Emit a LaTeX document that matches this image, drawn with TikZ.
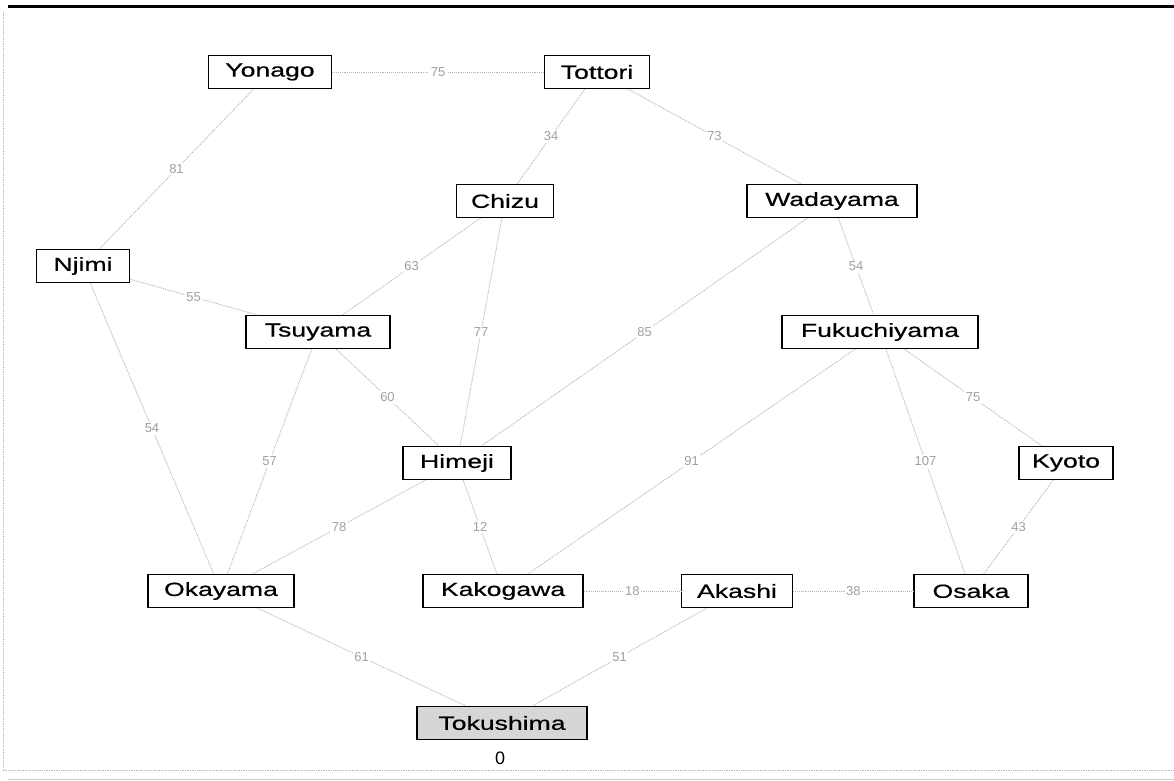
\documentclass[tikz,border=0pt]{standalone}
\usepackage{fontspec}
\newfontfamily\citysans[FakeStretch=1.4,FakeBold=0.6]{Liberation Sans}
\newfontfamily\weightsans{Liberation Sans}
\definecolor{edgegray}{HTML}{B4B4B4}
\definecolor{labelgray}{HTML}{A0A0A0}
\definecolor{startfill}{HTML}{D6D6D6}
\tikzset{
  city/.style={draw=black, line width=1.3pt, rectangle, minimum height=33pt,
    inner xsep=4pt, font=\citysans\fontsize{19}{22}\selectfont, text=black, fill=white},
  road/.style={draw=edgegray, line width=0.9pt, densely dotted},
  weight/.style={font=\weightsans\fontsize{13}{15}\selectfont, text=labelgray,
    fill=white, inner sep=1.5pt},
  startcity/.style={city, fill=startfill}
}
\begin{document}
\begin{tikzpicture}[x=1pt,y=-1pt]
\useasboundingbox (0,0) rectangle (1174,780);
\fill[white] (0,0) rectangle (1174,780);
% frame
\draw[black, line width=3pt] (8,6.5) -- (1174,6.5);
\draw[gray!50, densely dotted, line width=0.7pt] (3,12) -- (3,770);
\draw[gray!55, densely dotted, line width=0.7pt] (3,770) -- (1174,770);
\draw[gray!40, line width=1pt] (8,779) -- (1174,779);

% cities
\node[city, minimum width=123pt] (yonago) at (270,72) {Yonago};
\node[city, minimum width=105pt] (tottori) at (597,72) {Tottori};
\node[city, minimum width=97pt] (chizu) at (505,201) {Chizu};
\node[city, minimum width=170pt] (wadayama) at (832,201) {Wadayama};
\node[city, minimum width=93pt] (njimi) at (83,266) {Njimi};
\node[city, minimum width=144pt] (tsuyama) at (318,332) {Tsuyama};
\node[city, minimum width=196pt] (fukuchiyama) at (880,332) {Fukuchiyama};
\node[city, minimum width=108pt] (himeji) at (457,463) {Himeji};
\node[city, minimum width=94pt] (kyoto) at (1066,463) {Kyoto};
\node[city, minimum width=146pt] (okayama) at (221,591) {Okayama};
\node[city, minimum width=160pt] (kakogawa) at (503,591) {Kakogawa};
\node[city, minimum width=111pt] (akashi) at (737,591) {Akashi};
\node[city, minimum width=114pt] (osaka) at (971,591) {Osaka};
\node[startcity, minimum width=170pt] (tokushima) at (502,723) {Tokushima};
\node[font=\weightsans\fontsize{18}{20}\selectfont, inner sep=0pt] (dist) at (500,758) {0};

% roads with distances
\draw[road] (yonago) -- node[weight] {75} (tottori);
\draw[road] (yonago) -- node[weight] {81} (njimi);
\draw[road] (tottori) -- node[weight] {34} (chizu);
\draw[road] (tottori) -- node[weight] {73} (wadayama);
\draw[road] (chizu) -- node[weight] {63} (tsuyama);
\draw[road] (chizu) -- node[weight] {77} (himeji);
\draw[road] (wadayama) -- node[weight] {85} (himeji);
\draw[road] (wadayama) -- node[weight] {54} (fukuchiyama);
\draw[road] (njimi) -- node[weight] {55} (tsuyama);
\draw[road] (njimi) -- node[weight] {54} (okayama);
\draw[road] (tsuyama) -- node[weight] {60} (himeji);
\draw[road] (tsuyama) -- node[weight] {57} (okayama);
\draw[road] (himeji) -- node[weight] {78} (okayama);
\draw[road] (himeji) -- node[weight] {12} (kakogawa);
\draw[road] (fukuchiyama) -- node[weight] {91} (kakogawa);
\draw[road] (fukuchiyama) -- node[weight] {107} (osaka);
\draw[road] (fukuchiyama) -- node[weight] {75} (kyoto);
\draw[road] (kyoto) -- node[weight] {43} (osaka);
\draw[road] (kakogawa) -- node[weight] {18} (akashi);
\draw[road] (akashi) -- node[weight] {38} (osaka);
\draw[road] (okayama) -- node[weight] {61} (tokushima);
\draw[road] (akashi) -- node[weight] {51} (tokushima);
\end{tikzpicture}
\end{document}
